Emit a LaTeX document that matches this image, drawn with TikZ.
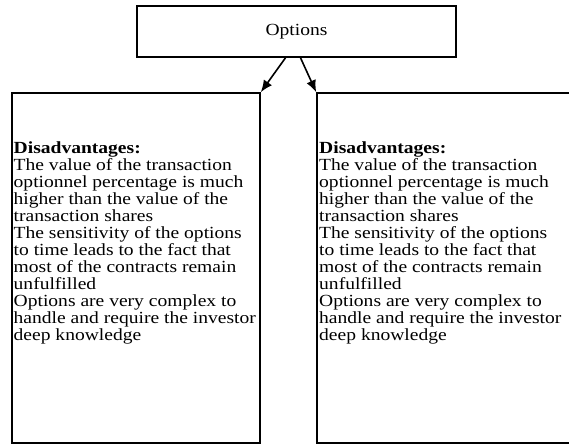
\documentclass[tikz,border=0pt]{standalone}
\usepackage{fontspec}
\setmainfont{Liberation Serif}[FakeStretch=1.15]
\usetikzlibrary{arrows.meta}

\tikzset{
    box/.style={draw, line width=1.6pt, rectangle, inner sep=0pt},
    boxtext/.style={anchor=north west, align=left, inner sep=0pt,
        font=\fontsize{17}{17}\selectfont},
    link/.style={-{Latex[length=12pt,width=10pt]}, line width=1.6pt}
}

\begin{document}
\begin{tikzpicture}[x=1pt,y=-1pt]
    \useasboundingbox (0,0) rectangle (569,444);

    % Top box
    \node[box, minimum width=319pt, minimum height=51pt] (options) at (296.5,31.5)
        {\fontsize{17}{17}\selectfont Options};

    % The two boxes below
    \node[box, minimum width=248pt, minimum height=350pt] (left) at (136,268) {};
    \node[box, minimum width=253pt, minimum height=350pt] (right) at (443.5,268) {};

    \node[boxtext] (lefttext) at (13.5,141) {\textbf{Disadvantages:}\\
        The value of the transaction\\
        optionnel percentage is much\\
        higher than the value of the\\
        transaction shares\\
        The sensitivity of the options\\
        to time leads to the fact that\\
        most of the contracts remain\\
        unfulfilled\\
        Options are very complex to\\
        handle and require the investor\\
        deep knowledge};
    \node[boxtext] (righttext) at (319,141) {\textbf{Disadvantages:}\\
        The value of the transaction\\
        optionnel percentage is much\\
        higher than the value of the\\
        transaction shares\\
        The sensitivity of the options\\
        to time leads to the fact that\\
        most of the contracts remain\\
        unfulfilled\\
        Options are very complex to\\
        handle and require the investor\\
        deep knowledge};

    % Arrows
    \draw[link] ([xshift=-11pt]options.south) -- (left.north east);
    \draw[link] ([xshift=4pt]options.south) -- (right.north west);
\end{tikzpicture}
\end{document}
